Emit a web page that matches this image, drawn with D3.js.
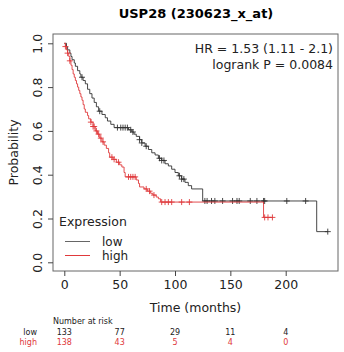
<!DOCTYPE html>
<html>
<head>
<meta charset="utf-8">
<script src="https://cdn.jsdelivr.net/npm/d3@7"></script>
<style>
  body { margin: 0; background: #fff; }
  text { font-family: "DejaVu Sans", sans-serif; }
</style>
</head>
<body>
<div id="chart"></div>
<script>
// step data: [time in months, survival after the drop]
const lowSteps = [[0,1.0],[2,0.985],[3,0.97],[5,0.955],[6,0.94],[7,0.925],[9,0.91],[10,0.895],[12,0.875],[14,0.86],[15,0.845],[17,0.83],[19,0.815],[21,0.79],[23,0.77],[25,0.75],[27,0.73],[29,0.71],[31,0.69],[34,0.675],[37,0.66],[39,0.645],[42,0.63],[45,0.615],[58,0.605],[61,0.595],[63,0.585],[65,0.575],[68,0.56],[70,0.545],[73,0.53],[76,0.515],[79,0.5],[82,0.49],[85,0.475],[88,0.465],[91,0.45],[94,0.44],[97,0.425],[100,0.41],[103,0.395],[106,0.38],[109,0.365],[112,0.35],[115,0.335],[125,0.28],[228,0.14]];
const lowCensor = [16,32,48,51,53,55,57,60,62,68,70,74,86,88,90,104,106,108,127,129,133,136,143,152,156,158,168,174,180,181,201,218,238];

const highSteps = [[0,1],[1,0.985],[2,0.97],[3,0.955],[4,0.94],[5,0.92],[6,0.9],[7,0.88],[8,0.86],[9,0.845],[10,0.83],[11,0.815],[12,0.8],[13,0.785],[14,0.77],[15,0.755],[16,0.74],[17,0.72],[18,0.7],[19,0.685],[21,0.67],[22,0.655],[24,0.64],[26,0.62],[28,0.6],[30,0.585],[32,0.567],[34,0.55],[36,0.535],[38,0.52],[40,0.5],[41,0.48],[44,0.47],[47,0.457],[50,0.445],[52,0.435],[54,0.41],[55,0.39],[65,0.376],[67,0.36],[68,0.344],[72,0.335],[75,0.325],[78,0.315],[80,0.307],[83,0.298],[85,0.29],[87,0.275],[180,0.205]];
const highCensor = [1,3,5,24,26,27,29,31,33,35,43,45,49,58,60,62,64,74,77,81,88,91,94,97,106,113,181,184,188];

const xTicks = [0, 50, 100, 150, 200];
const yTicks = [0, 0.2, 0.4, 0.6, 0.8, 1.0];
const riskGroups = ["low", "high"];
const riskLow = [133, 77, 29, 11, 4];
const riskHigh = [138, 43, 5, 4, 0];

const W = 344, H = 352;
const box = { left: 53, right: 338, top: 34, bottom: 271 };
const lowColor = "#333", highColor = "#e0393b";

const svg = d3.select("#chart").append("svg")
    .attr("width", W).attr("height", H);

let x = d3.scaleLinear().domain([0, 200]).range([64.3, 285.7]);
let y = d3.scaleLinear().domain([0, 1]).range([262.3, 43.3]);

// title
svg.append("text")
    .attr("x", 196).attr("y", 18)
    .attr("text-anchor", "middle")
    .style("font-size", "13px").style("font-weight", "bold")
    .text("USP28 (230623_x_at)");

// frame
svg.append("rect")
    .attr("x", box.left).attr("y", box.top)
    .attr("width", box.right - box.left).attr("height", box.bottom - box.top)
    .attr("fill", "none").attr("stroke", "#666").attr("stroke-width", 1);

// x axis
let xAxis = svg.append("g")
    .attr("transform", `translate(0,${box.bottom})`)
    .call(d3.axisBottom(x).tickValues(xTicks).tickSize(5).tickPadding(4).tickFormat(d3.format("d")));
xAxis.select(".domain").remove();
xAxis.selectAll("line").attr("stroke", "#444");
xAxis.selectAll("text").style("font-size", "12.5px").style("fill", "#222")
    .style("font-family", "DejaVu Sans");

// y axis, labels rotated as in R
let yAxis = svg.append("g")
    .attr("transform", `translate(${box.left},0)`)
    .call(d3.axisLeft(y).tickValues(yTicks).tickSize(5).tickFormat(d3.format(".1f")));
yAxis.select(".domain").remove();
yAxis.selectAll("line").attr("stroke", "#444");
yAxis.selectAll("text")
    .style("font-size", "12.5px").style("fill", "#222").style("font-family", "DejaVu Sans")
    .attr("x", null).attr("dy", null)
    .attr("text-anchor", "middle")
    .attr("transform", "translate(-11,0) rotate(-90)");

// axis titles
svg.append("text")
    .attr("transform", `translate(18,${(box.top + box.bottom) / 2}) rotate(-90)`)
    .attr("text-anchor", "middle")
    .style("font-size", "12.5px").style("fill", "#222")
    .text("Probability");
svg.append("text")
    .attr("x", (box.left + box.right) / 2).attr("y", 312)
    .attr("text-anchor", "middle")
    .style("font-size", "12.5px").style("fill", "#222")
    .text("Time (months)");

// curves
function survAt(steps, t) {
    let s = steps[0][1];
    for (const p of steps) { if (p[0] <= t) s = p[1]; }
    return s;
}
let line = d3.line().x(d => x(d[0])).y(d => y(d[1])).curve(d3.curveStepAfter);

function drawCurve(steps, censor, color) {
    let last = steps[steps.length - 1];
    let pts = steps.concat([[Math.max(last[0], d3.max(censor)), last[1]]]);
    svg.append("path")
        .datum(pts)
        .attr("d", line)
        .attr("fill", "none").attr("stroke", color).attr("stroke-width", 0.9);
    svg.append("g").selectAll("path")
        .data(censor)
        .enter().append("path")
        .attr("d", t => {
            let cx = x(t), cy = y(survAt(steps, t));
            return `M${cx - 3},${cy}H${cx + 3}M${cx},${cy - 3}V${cy + 3}`;
        })
        .attr("stroke", color).attr("stroke-width", 0.9);
}
drawCurve(lowSteps, lowCensor, lowColor);
drawCurve(highSteps, highCensor, highColor);

// HR text
svg.append("text")
    .attr("x", 333).attr("y", 53).attr("text-anchor", "end")
    .style("font-size", "12.5px").style("fill", "#222")
    .text("HR = 1.53 (1.11 - 2.1)");
svg.append("text")
    .attr("x", 333).attr("y", 69).attr("text-anchor", "end")
    .style("font-size", "12.5px").style("fill", "#222")
    .text("logrank P = 0.0084");

// legend
svg.append("text")
    .attr("x", 59).attr("y", 226)
    .style("font-size", "12.5px").style("fill", "#222")
    .text("Expression");
let legend = svg.append("g").selectAll("g")
    .data(riskGroups)
    .enter().append("g")
    .attr("transform", (d, i) => `translate(0,${241.5 + i * 14})`);
legend.append("line")
    .attr("x1", 65).attr("x2", 90)
    .attr("stroke", d => d === "low" ? "#666" : highColor).attr("stroke-width", 1);
legend.append("text")
    .attr("x", 102).attr("y", 4.5)
    .style("font-size", "12px").style("fill", "#222")
    .text(d => d);

// number at risk
svg.append("text")
    .attr("x", 53).attr("y", 324)
    .style("font-size", "8px").style("fill", "#222")
    .text("Number at risk");
[riskLow, riskHigh].forEach((row, i) => {
    let col = i === 0 ? "#222" : highColor;
    let yy = 334.5 + i * 10;
    svg.append("text")
        .attr("x", 37).attr("y", yy).attr("text-anchor", "end")
        .style("font-size", "8px").style("fill", col)
        .text(riskGroups[i]);
    svg.append("g").selectAll("text")
        .data(row)
        .enter().append("text")
        .attr("x", (d, j) => x(xTicks[j]))
        .attr("y", yy).attr("text-anchor", "middle")
        .style("font-size", "8px").style("fill", col)
        .text(d => d);
});
</script>
</body>
</html>
